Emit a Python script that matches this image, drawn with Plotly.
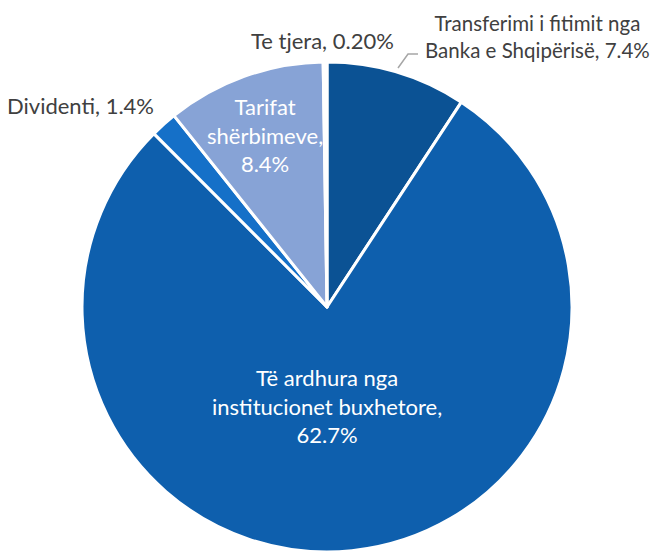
import plotly.graph_objects as go

categories = ["Transferimi i fitimit nga<br>Banka e Shqipërisë",
              "Të ardhura nga<br>institucionet buxhetore",
              "Dividenti",
              "Tarifat<br>shërbimeve",
              "Te tjera"]
values = [7.4, 62.7, 1.4, 8.4, 0.2]
value_labels = ["7.4%", "62.7%", "1.4%", "8.4%", "0.20%"]
colors = ["#0B5294", "#0E5FAD", "#1570C8", "#87A3D6", "#FFFFFF"]

# the page has an 8px body margin, so the figure is 8px smaller and offset
OFF = 8
W, H = 668 - OFF, 552 - OFF
CX, CY, R = 327 - OFF, 307 - OFF, 245

fig = go.Figure(go.Pie(
    labels=[c.replace("<br>", " ") for c in categories],
    values=values,
    sort=False,
    direction="clockwise",
    rotation=0,
    marker=dict(colors=colors, line=dict(color="white", width=3)),
    textinfo="none",
    hoverinfo="label+value",
    showlegend=False,
    domain=dict(x=[(CX - R) / W, (CX + R) / W], y=[1 - (CY + R) / H, 1 - (CY - R) / H]),
))

font = "Lato, 'Open Sans', sans-serif"
dark = "#404040"
# label placement (page pixel coordinates, x anchor, colour, separator, size)
label_pos = [(652, 36, "right", dark, ", ", 20.5),
             (327, 406, "center", "white", ",<br>", 22),
             (80, 105, "center", dark, ", ", 22),
             (265, 135, "center", "white", ",<br>", 22),
             (322, 40, "center", dark, ", ", 22)]
for cat, vl, (px, py, xa, col, sep, sz) in zip(categories, value_labels, label_pos):
    fig.add_annotation(x=(px - OFF) / W, y=1 - (py - OFF) / H, xref="paper", yref="paper",
                       text=cat + sep + vl, showarrow=False,
                       font=dict(family=font, size=sz, color=col),
                       xanchor=xa, yanchor="middle", align="center")

# leader line for Transferimi label
pts = [(398, 68), (408, 54), (418, 54)]
path = " ".join(("M" if i == 0 else "L") + f" {(x - OFF) / W} {1 - (y - OFF) / H}"
                for i, (x, y) in enumerate(pts))
fig.add_shape(type="path", xref="paper", yref="paper", path=path,
              line=dict(color="#A6A6A6", width=1.5))

fig.update_layout(
    width=W, height=H,
    margin=dict(l=0, r=0, t=0, b=0),
    paper_bgcolor="white", plot_bgcolor="white",
    font=dict(family=font),
)
fig.write_html("out.html")
